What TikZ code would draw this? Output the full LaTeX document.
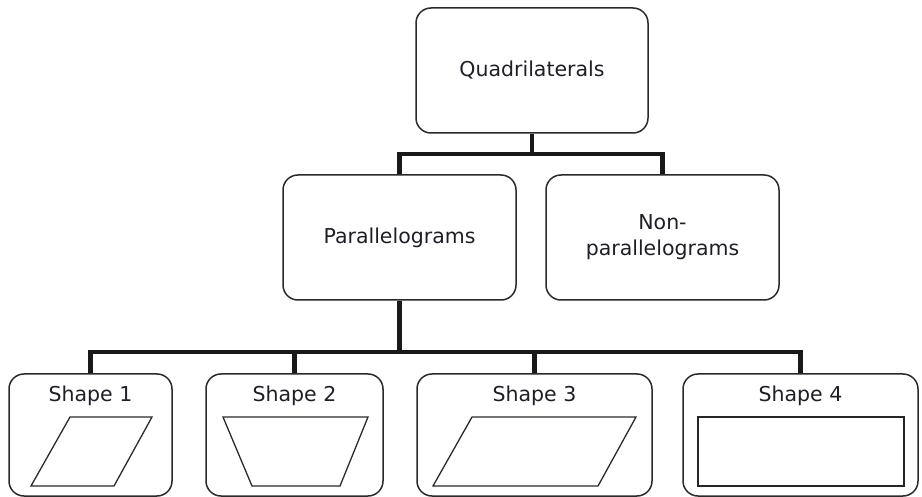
\documentclass[tikz,border=0pt]{standalone}
\usepackage{fontspec}
\setmainfont{DejaVu Sans}
\definecolor{ink}{HTML}{1E1E28}
\definecolor{edge}{HTML}{2A2A2A}
\tikzset{
  box/.style={draw=edge, line width=1.5pt, rounded corners=15pt, align=center, inner sep=0pt, text=ink, font=\fontsize{20.5}{26}\selectfont},
  lbl/.style={text=ink, inner sep=0pt, font=\fontsize{20.5}{24}\selectfont},
  conn/.style={draw=black!90, line width=4.2pt},
  fig/.style={draw=edge, line width=1.3pt, line join=miter},
}
\begin{document}
\begin{tikzpicture}[x=1pt, y=-1pt]
\useasboundingbox (0,0) rectangle (922,497);
\node[box, minimum width=232pt, minimum height=125pt] (quad) at (532,70.5) {Quadrilaterals};
\node[box, minimum width=233pt, minimum height=125pt] (par) at (399.5,237.5) {Parallelograms};
\node[box, minimum width=233pt, minimum height=125pt] (non) at (662.5,237.5) {Non-\\parallelograms};
\node[box, minimum width=163pt, minimum height=122pt] (s1) at (90.5,435) {};
\node[box, minimum width=177pt, minimum height=122pt] (s2) at (294.5,435) {};
\node[box, minimum width=235pt, minimum height=122pt] (s3) at (534.5,435) {};
\node[box, minimum width=235pt, minimum height=122pt] (s4) at (800.5,435) {};
\node[lbl] (l1) at (90.5,396) {Shape 1};
\node[lbl] (l2) at (294.5,396) {Shape 2};
\node[lbl] (l3) at (534.5,396) {Shape 3};
\node[lbl] (l4) at (800.5,396) {Shape 4};
\coordinate (b1) at (0,154);
\coordinate (b2) at (0,352);
\draw[conn] (quad.south) -- (quad.south |- b1);
\draw[conn] (par.north) -- (par.north |- b1) -- (non.north |- b1) -- (non.north);
\draw[conn] (par.south) -- (par.south |- b2);
\draw[conn] (s1.north) -- (s1.north |- b2) -- (s4.north |- b2) -- (s4.north);
\draw[conn] (s2.north) -- (s2.north |- b2);
\draw[conn] (s3.north) -- (s3.north |- b2);
\draw[fig] (70,417) -- (152,417) -- (114,486) -- (31,486) -- cycle;
\draw[fig] (223,417) -- (368,417) -- (340,486) -- (252,486) -- cycle;
\draw[fig] (472,417) -- (636,417) -- (598,486) -- (433,486) -- cycle;
\draw[draw=black!85, line width=2.6pt] (698,417) rectangle (904,486);
\end{tikzpicture}
\end{document}
